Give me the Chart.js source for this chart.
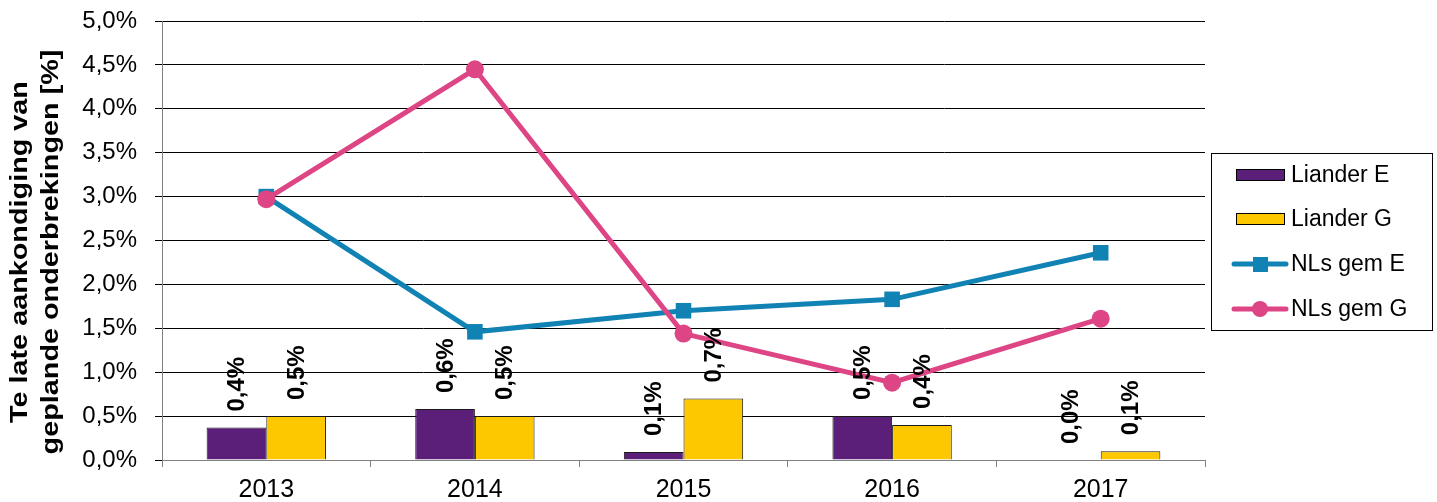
<!DOCTYPE html>
<html>
<head>
<meta charset="utf-8">
<script src="https://cdn.jsdelivr.net/npm/chart.js@4/dist/chart.umd.min.js"></script>
<style>
    body { margin: 0; background: #fff; }
    #wrap { width: 1437px; height: 502px; position: relative; }
</style>
</head>
<body>
<div id="wrap"><canvas id="chartOnderbreking"></canvas></div>
<script>
const years = ["2013", "2014", "2015", "2016", "2017"];
const lianderE = [0.37, 0.58, 0.09, 0.5, 0.0];
const lianderG = [0.5, 0.5, 0.7, 0.4, 0.1];
const nlsGemE = [3.0, 1.46, 1.7, 1.83, 2.36];
const nlsGemG = [2.97, 4.45, 1.44, 0.88, 1.61];
const yTitle = ["Te late aankondiging van", "geplande onderbrekingen [%]"];

const FONT = "Arial, 'Liberation Sans', sans-serif";

function pct(v) {
    return v.toFixed(1).replace(".", ",") + "%";
}

// labels boven de staven, gedraaid
const barLabels = {
    id: "barLabels",
    afterDatasetsDraw(chart) {
        const ctx = chart.ctx;
        ctx.save();
        ctx.font = "bold 24px " + FONT;
        ctx.fillStyle = "#000";
        ctx.textAlign = "left";
        ctx.textBaseline = "middle";
        chart.data.datasets.forEach((ds, i) => {
            if (ds.type !== "bar") return;
            chart.getDatasetMeta(i).data.forEach((bar, j) => {
                ctx.save();
                ctx.translate(bar.x + 1, bar.y - 16);
                ctx.rotate(-Math.PI / 2);
                ctx.fillText(pct(ds.data[j]), 0, 0);
                ctx.restore();
            });
        });
        ctx.restore();
    }
};

// y-as titel en legenda met kader
const extras = {
    id: "extras",
    afterDraw(chart) {
        const ctx = chart.ctx;
        ctx.save();
        ctx.font = "bold 24px " + FONT;
        ctx.fillStyle = "#000";
        ctx.textAlign = "center";
        ctx.textBaseline = "alphabetic";
        ctx.translate(0, 252);
        ctx.rotate(-Math.PI / 2);
        ctx.scale(1.2, 1);
        ctx.fillText(yTitle[0], 0, 27);
        ctx.fillText(yTitle[1], 0, 58);
        ctx.restore();

        // legenda
        const bx = 1211, by = 153, bw = 221, bh = 177;
        ctx.save();
        ctx.strokeStyle = "#000";
        ctx.lineWidth = 1;
        ctx.strokeRect(bx + 0.5, by + 0.5, bw, bh);
        ctx.font = "23px " + FONT;
        ctx.textAlign = "left";
        ctx.textBaseline = "middle";
        const rows = [175, 219, 264, 309];
        chart.data.datasets.forEach((ds, i) => {
            const y = rows[i];
            if (ds.type === "bar") {
                ctx.fillStyle = ds.backgroundColor;
                ctx.fillRect(1236, y - 6, 49, 11);
                ctx.strokeStyle = "#000";
                ctx.strokeRect(1236.5, y - 5.5, 48, 11);
            } else {
                ctx.strokeStyle = ds.borderColor;
                ctx.lineWidth = 5;
                ctx.lineCap = "round";
                ctx.beginPath();
                ctx.moveTo(1234, y);
                ctx.lineTo(1286, y);
                ctx.stroke();
                ctx.fillStyle = ds.borderColor;
                if (ds.pointStyle === "rect") {
                    ctx.fillRect(1253, y - 7, 15, 15);
                } else {
                    ctx.beginPath();
                    ctx.arc(1260, y, 8, 0, Math.PI * 2);
                    ctx.fill();
                }
            }
            ctx.fillStyle = "#000";
            ctx.fillText(ds.label, 1291, y + 1);
        });
        ctx.restore();
    }
};

const ctxChart = document.getElementById("chartOnderbreking").getContext("2d");

new Chart(ctxChart, {
    type: "bar",
    data: {
        labels: years,
        datasets: [
            {
                type: "bar",
                label: "Liander E",
                data: lianderE,
                backgroundColor: "#5C1F79",
                borderColor: "#1a1a1a",
                borderWidth: 1,
                categoryPercentage: 0.572,
                barPercentage: 1,
                order: 3
            },
            {
                type: "bar",
                label: "Liander G",
                data: lianderG,
                backgroundColor: "#FEC800",
                borderColor: "#1a1a1a",
                borderWidth: 1,
                categoryPercentage: 0.572,
                barPercentage: 1,
                order: 3
            },
            {
                type: "line",
                label: "NLs gem E",
                data: nlsGemE,
                borderColor: "#1182B4",
                backgroundColor: "#1182B4",
                borderWidth: 5,
                pointStyle: "rect",
                pointRadius: 11,
                pointBorderWidth: 0,
                tension: 0,
                order: 2
            },
            {
                type: "line",
                label: "NLs gem G",
                data: nlsGemG,
                borderColor: "#DD4585",
                backgroundColor: "#DD4585",
                borderWidth: 5,
                pointStyle: "circle",
                pointRadius: 9,
                pointBorderWidth: 0,
                tension: 0,
                order: 1
            }
        ]
    },
    options: {
        responsive: true,
        maintainAspectRatio: false,
        animation: false,
        layout: {
            padding: { top: 21, right: 232, left: 0, bottom: 0 }
        },
        plugins: {
            legend: { display: false },
            tooltip: { enabled: false }
        },
        scales: {
            x: {
                offset: true,
                grid: {
                    offset: true,
                    drawOnChartArea: false,
                    drawTicks: true,
                    tickLength: 7,
                    color: "#808080"
                },
                border: { color: "#808080", width: 1 },
                ticks: {
                    color: "#000",
                    font: { size: 25, family: FONT },
                    padding: 8,
                    maxRotation: 0
                },
                afterFit(scale) { scale.height = 42; }
            },
            y: {
                min: 0,
                max: 5,
                grid: {
                    color: "#000",
                    lineWidth: 1,
                    drawTicks: true,
                    tickLength: 7
                },
                border: { color: "#808080", width: 1 },
                ticks: {
                    stepSize: 0.5,
                    color: "#000",
                    font: { size: 24, family: FONT },
                    padding: 18,
                    callback: (v) => pct(v)
                },
                afterFit(scale) {
                    scale.width = 162;
                    scale.paddingTop = 0;
                    scale.paddingBottom = 0;
                }
            }
        }
    },
    plugins: [barLabels, extras]
});
</script>
</body>
</html>
